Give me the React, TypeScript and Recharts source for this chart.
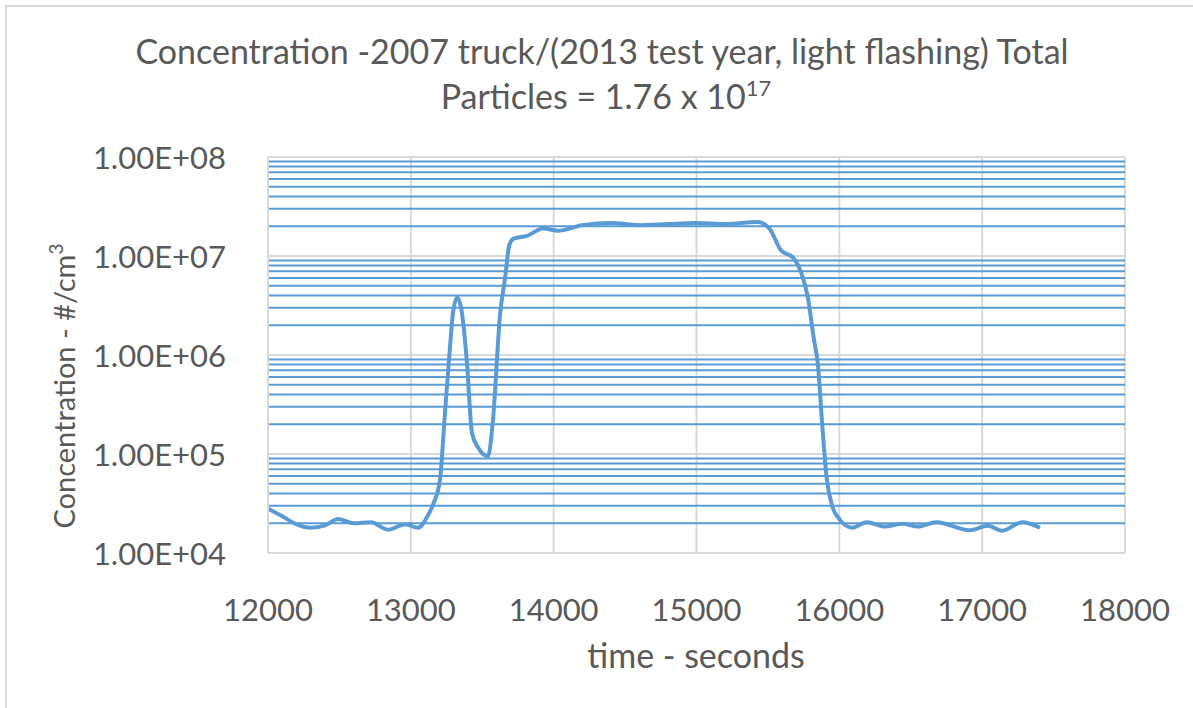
import React from "react";
import {
  LineChart,
  Line,
  XAxis,
  YAxis,
  CartesianGrid,
  ReferenceLine,
} from "recharts";

const times = [
  12000, 12100, 12200, 12300, 12400, 12490, 12600, 12720, 12840, 12960, 13050,
  13120, 13160, 13204, 13239, 13274, 13295, 13325, 13358, 13393, 13428, 13470,
  13540, 13575, 13625, 13660, 13690, 13720, 13813, 13925, 14030, 14200, 14400,
  14600, 14800, 15000, 15200, 15430, 15510, 15590, 15680, 15730, 15780, 15820,
  15850, 15880, 15910, 15950, 16000, 16090, 16190, 16320, 16440, 16550, 16680,
  16910, 17040, 17140, 17280, 17405,
];

const concentration = [
  2.8e4, 2.35e4, 1.95e4, 1.8e4, 1.9e4, 2.2e4, 2.0e4, 2.05e4, 1.72e4, 1.95e4,
  1.8e4, 2.4e4, 3.2e4, 5.5e4, 2.6e5, 1.2e6, 2.65e6, 3.8e6, 2.65e6, 8.3e5,
  1.63e5, 1.17e5, 9.5e4, 2.2e5, 2.6e6, 6.0e6, 1.3e7, 1.5e7, 1.6e7, 1.9e7,
  1.8e7, 2.05e7, 2.15e7, 2.05e7, 2.1e7, 2.15e7, 2.1e7, 2.2e7, 1.9e7, 1.15e7,
  9.5e6, 7.0e6, 3.8e6, 1.5e6, 8.0e5, 2.0e5, 6.0e4, 3.0e4, 2.2e4, 1.8e4, 2.05e4,
  1.85e4, 1.98e4, 1.85e4, 2.05e4, 1.7e4, 1.88e4, 1.68e4, 2.05e4, 1.8e4,
];

const xTicks = [12000, 13000, 14000, 15000, 16000, 17000, 18000];
const yTicks = [1e4, 1e5, 1e6, 1e7, 1e8];
const yTickLabels = ["1.00E+04", "1.00E+05", "1.00E+06", "1.00E+07", "1.00E+08"];
const minorGrid = [
  2e4, 3e4, 4e4, 5e4, 6e4, 7e4, 8e4, 9e4,
  2e5, 3e5, 4e5, 5e5, 6e5, 7e5, 8e5, 9e5,
  2e6, 3e6, 4e6, 5e6, 6e6, 7e6, 8e6, 9e6,
  2e7, 3e7, 4e7, 5e7, 6e7, 7e7, 8e7, 9e7,
];

const data = times.map((t, i) => ({ t, c: concentration[i] }));

const FONT = "Lato, 'Liberation Sans', sans-serif";
const TEXT = "#595959";
const BLUE = "#5B9BD5";
const GRID = "#d9d9d9";

const YTick = (props: any) => {
  const { x, y, payload } = props;
  const idx = yTicks.indexOf(payload.value);
  return (
    <text
      x={x}
      y={y}
      textAnchor="end"
      dominantBaseline="central"
      fontFamily={FONT}
      fontSize={31}
      fill={TEXT}
    >
      {idx >= 0 ? yTickLabels[idx] : String(payload.value)}
    </text>
  );
};

const XTick = (props: any) => {
  const { x, y, payload } = props;
  return (
    <text
      x={x}
      y={y}
      textAnchor="middle"
      dominantBaseline="central"
      fontFamily={FONT}
      fontSize={31}
      fill={TEXT}
    >
      {payload.value}
    </text>
  );
};

export default function App() {
  return (
    <div
      style={{
        position: "absolute",
        left: 0,
        top: 0,
        width: 1193,
        height: 708,
        overflow: "hidden",
        background: "#fff",
      }}
    >
      <div
        style={{
          position: "absolute",
          left: 5,
          top: 5,
          width: 1300,
          height: 800,
          borderLeft: `2px solid ${GRID}`,
          borderTop: `2px solid ${GRID}`,
        }}
      />
      <div style={{ position: "absolute", left: 0, top: 0 }}>
        <LineChart
          width={1193}
          height={708}
          data={data}
          margin={{ top: 157, right: 68, left: 68, bottom: 35 }}
        >
          <CartesianGrid stroke={GRID} strokeWidth={2} />
          {minorGrid.map((v) => (
            <ReferenceLine
              key={v}
              y={v}
              stroke={BLUE}
              strokeWidth={2}
              ifOverflow="hidden"
            />
          ))}
          <XAxis
            dataKey="t"
            type="number"
            domain={[12000, 18000]}
            ticks={xTicks}
            height={120}
            tickLine={false}
            tickMargin={50}
            axisLine={{ stroke: GRID, strokeWidth: 2 }}
            tick={<XTick />}
            interval={0}
          />
          <YAxis
            scale="log"
            domain={[1e4, 1e8]}
            ticks={yTicks}
            type="number"
            allowDataOverflow
            width={200}
            tickLine={false}
            tickMargin={36}
            axisLine={{ stroke: GRID, strokeWidth: 2 }}
            tick={<YTick />}
            interval={0}
          />
          <Line
            type="monotone"
            dataKey="c"
            stroke={BLUE}
            strokeWidth={4}
            dot={false}
            isAnimationActive={false}
          />
        </LineChart>
      </div>
      <svg
        width={1193}
        height={708}
        style={{ position: "absolute", left: 0, top: 0, pointerEvents: "none" }}
      >
        <text
          x={602}
          y={64}
          textAnchor="middle"
          fontFamily={FONT}
          fontSize={34}
          fill={TEXT}
        >
          Concentration -2007 truck/(2013 test year, light flashing) Total
        </text>
        <text
          x={606}
          y={109}
          textAnchor="middle"
          fontFamily={FONT}
          fontSize={34}
          fill={TEXT}
        >
          Particles = 1.76 x 10
          <tspan fontSize={22} dy={-13}>
            17
          </tspan>
        </text>
        <text
          x={696}
          y={668}
          textAnchor="middle"
          fontFamily={FONT}
          fontSize={34}
          fill={TEXT}
        >
          time - seconds
        </text>
        <text
          x={75}
          y={386}
          transform="rotate(-90 75 386)"
          textAnchor="middle"
          fontFamily={FONT}
          fontSize={29}
          fill={TEXT}
        >
          Concentration - #/cm
          <tspan fontSize={19} dy={-12}>
            3
          </tspan>
        </text>
      </svg>
    </div>
  );
}
